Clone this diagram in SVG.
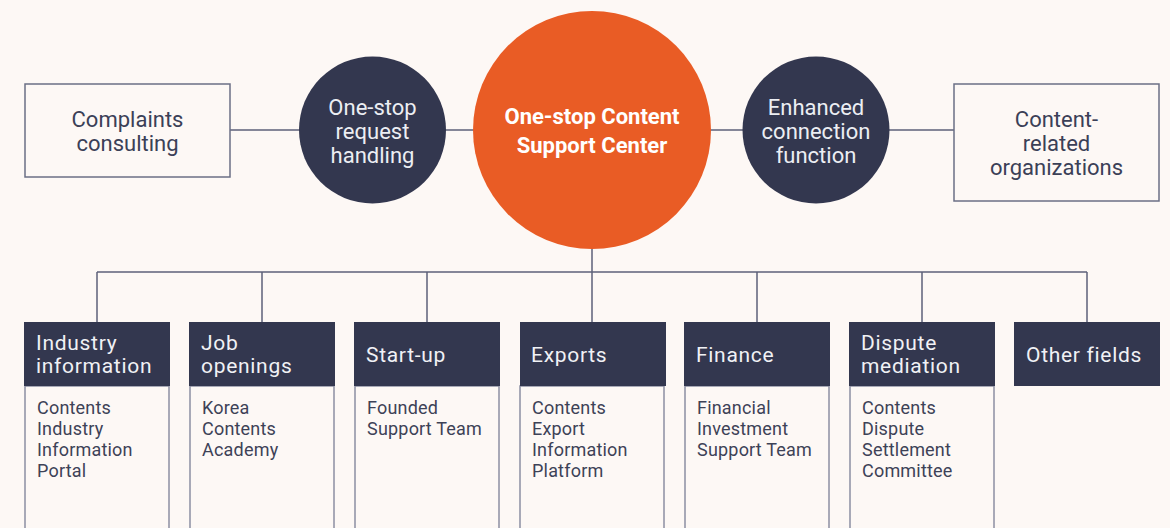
<svg xmlns="http://www.w3.org/2000/svg" width="1170" height="528" viewBox="0 0 1170 528">
<style>
.bg{fill:#fdf8f5}
.ln{stroke:#5d6178;stroke-width:1.5;fill:none}
.ob{fill:#fdf8f5;stroke:#6b6f85;stroke-width:1.5}
.col{fill:none;stroke:#8c8fa2;stroke-width:1.5}
.dk{fill:#33374f}
.or{fill:#e95c25}
.t{font-family:Roboto,"Liberation Sans",sans-serif;font-size:22px;text-anchor:middle}
.tl{font-family:Roboto,"Liberation Sans",sans-serif;font-size:22px;fill:#3b4057;text-anchor:middle}
.tw{fill:#eceef3}
.tb{font-family:Roboto,"Liberation Sans",sans-serif;font-size:22px;font-weight:bold;fill:#ffffff;text-anchor:middle}
.h{font-family:Roboto,"Liberation Sans",sans-serif;font-size:21px;letter-spacing:0.7px;fill:#f0f1f5}
.b{font-family:Roboto,"Liberation Sans",sans-serif;font-size:18px;letter-spacing:0.2px;fill:#3d4257}
</style>
<rect class="bg" x="0" y="0" width="1170" height="528"/>
<g id="connectors">
<line class="ln" x1="230" y1="130" x2="954" y2="130"/>
<line class="ln" x1="592" y1="249" x2="592" y2="272"/>
<line class="ln" x1="97" y1="272" x2="1087" y2="272"/>
<line class="ln" x1="97" y1="272" x2="97" y2="322"/>
<line class="ln" x1="262" y1="272" x2="262" y2="322"/>
<line class="ln" x1="427" y1="272" x2="427" y2="322"/>
<line class="ln" x1="592" y1="272" x2="592" y2="322"/>
<line class="ln" x1="757" y1="272" x2="757" y2="322"/>
<line class="ln" x1="922" y1="272" x2="922" y2="322"/>
<line class="ln" x1="1087" y1="272" x2="1087" y2="322"/>
</g>
<g id="complaints">
<rect class="ob" x="25" y="84" width="205" height="93"/>
<text class="tl" x="127.5" y="127">Complaints</text>
<text class="tl" x="127.5" y="151">consulting</text>
</g>
<g id="request">
<circle class="dk" cx="372.5" cy="130" r="73.5"/>
<text class="t tw" x="372.5" y="115">One-stop</text>
<text class="t tw" x="372.5" y="139">request</text>
<text class="t tw" x="372.5" y="163">handling</text>
</g>
<g id="center">
<circle class="or" cx="592" cy="130" r="119"/>
<text class="tb" x="592" y="124">One-stop Content</text>
<text class="tb" x="592" y="153">Support Center</text>
</g>
<g id="connection">
<circle class="dk" cx="816" cy="130" r="73.5"/>
<text class="t tw" x="816" y="115">Enhanced</text>
<text class="t tw" x="816" y="139">connection</text>
<text class="t tw" x="816" y="163">function</text>
</g>
<g id="organizations">
<rect class="ob" x="954" y="84" width="205" height="117"/>
<text class="tl" x="1056.5" y="127">Content-</text>
<text class="tl" x="1056.5" y="151">related</text>
<text class="tl" x="1056.5" y="175">organizations</text>
</g>
<g id="industry">
<rect class="col" x="25" y="386" width="144" height="160"/>
<rect class="dk" x="24" y="322" width="146" height="64"/>
<text class="h" x="36" y="350">Industry</text>
<text class="h" x="36" y="373">information</text>
<text class="b" x="37" y="414">Contents</text>
<text class="b" x="37" y="435">Industry</text>
<text class="b" x="37" y="456">Information</text>
<text class="b" x="37" y="477">Portal</text>
</g>
<g id="job">
<rect class="col" x="190" y="386" width="144" height="160"/>
<rect class="dk" x="189" y="322" width="146" height="64"/>
<text class="h" x="201" y="350">Job</text>
<text class="h" x="201" y="373">openings</text>
<text class="b" x="202" y="414">Korea</text>
<text class="b" x="202" y="435">Contents</text>
<text class="b" x="202" y="456">Academy</text>
</g>
<g id="startup">
<rect class="col" x="355" y="386" width="144" height="160"/>
<rect class="dk" x="354" y="322" width="146" height="64"/>
<text class="h" x="366" y="362">Start-up</text>
<text class="b" x="367" y="414">Founded</text>
<text class="b" x="367" y="435">Support Team</text>
</g>
<g id="exports">
<rect class="col" x="520" y="386" width="144" height="160"/>
<rect class="dk" x="520" y="322" width="146" height="64"/>
<text class="h" x="531" y="362">Exports</text>
<text class="b" x="532" y="414">Contents</text>
<text class="b" x="532" y="435">Export</text>
<text class="b" x="532" y="456">Information</text>
<text class="b" x="532" y="477">Platform</text>
</g>
<g id="finance">
<rect class="col" x="685" y="386" width="144" height="160"/>
<rect class="dk" x="684" y="322" width="146" height="64"/>
<text class="h" x="696" y="362">Finance</text>
<text class="b" x="697" y="414">Financial</text>
<text class="b" x="697" y="435">Investment</text>
<text class="b" x="697" y="456">Support Team</text>
</g>
<g id="dispute">
<rect class="col" x="850" y="386" width="144" height="160"/>
<rect class="dk" x="849" y="322" width="146" height="64"/>
<text class="h" x="861" y="350">Dispute</text>
<text class="h" x="861" y="373">mediation</text>
<text class="b" x="862" y="414">Contents</text>
<text class="b" x="862" y="435">Dispute</text>
<text class="b" x="862" y="456">Settlement</text>
<text class="b" x="862" y="477">Committee</text>
</g>
<g id="other">
<rect class="dk" x="1014" y="322" width="146" height="64"/>
<text class="h" x="1026" y="362">Other fields</text>
</g>
</svg>
